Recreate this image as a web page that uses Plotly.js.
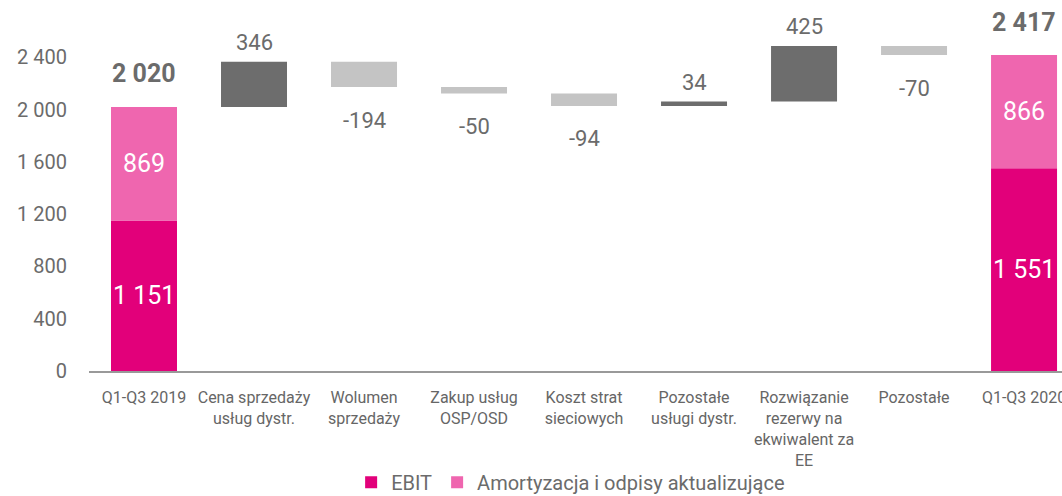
<!DOCTYPE html>
<html>
<head>
<meta charset="utf-8">
<script src="https://cdn.plot.ly/plotly-3.0.1.min.js"></script>
<style>html,body{margin:0;padding:0;background:#fff;overflow:hidden}#chart{width:1062px;height:496px}</style>
</head>
<body>
<div id="chart"></div>
<script>
const categories = [
  "Q1-Q3 2019",
  "Cena sprzedaży<br>usług dystr.",
  "Wolumen<br>sprzedaży",
  "Zakup usług<br>OSP/OSD",
  "Koszt strat<br>sieciowych",
  "Pozostałe<br>usługi dystr.",
  "Rozwiązanie<br>rezerwy na<br>ekwiwalent za<br>EE",
  "Pozostałe",
  "Q1-Q3 2020"
];
const ebit = [1151, null, null, null, null, null, null, null, 1551];
const amort = [869, null, null, null, null, null, null, null, 866];
const changes = [null, 346, -194, -50, -94, 34, 425, -70, null];
const yTicks = [0, 400, 800, 1200, 1600, 2000, 2400];

const C_EBIT = '#E2007A', C_AM = '#EF66AF', C_UP = '#6D6D6D', C_DOWN = '#C4C4C4', C_TXT = '#6B6B6B';
const FONT = 'Roboto, "Open Sans", sans-serif';
const fmt = v => (v < 0 ? '-' : '') + String(Math.abs(v)).replace(/\B(?=(\d{3})+(?!\d))/g, ' ');

// waterfall bases from cumulative sums
const bases = [];
let run = ebit[0] + amort[0];
changes.forEach((c, i) => {
  if (c === null) { bases.push(null); } else { bases.push(run); run += c; }
});

const traces = [
  {type:'bar', name:'EBIT', x:categories, y:ebit, base:0, width:0.6,
   marker:{color:C_EBIT}, hoverinfo:'skip'},
  {type:'bar', name:'Amortyzacja i odpisy aktualizujące', x:categories, y:amort,
   base:ebit.map(v => v === null ? null : v), width:0.6,
   marker:{color:C_AM}, hoverinfo:'skip'},
  {type:'bar', name:'zmiana', x:categories, y:changes, base:bases, width:0.6,
   marker:{color:changes.map(c => c === null ? C_UP : (c >= 0 ? C_UP : C_DOWN))},
   showlegend:false, hoverinfo:'skip'}
];

const ann = [];
categories.forEach((cat, i) => {
  if (ebit[i] !== null) {
    ann.push({x:cat, y:ebit[i]/2, text:fmt(ebit[i]), showarrow:false, yanchor:'middle',
      font:{family:FONT, size:25, color:'#fff'}});
    ann.push({x:cat, y:ebit[i] + amort[i]/2, text:fmt(amort[i]), showarrow:false, yanchor:'middle',
      font:{family:FONT, size:25, color:'#fff'}});
    ann.push({x:cat, y:ebit[i] + amort[i], text:'<b>' + fmt(ebit[i] + amort[i]) + '</b>', showarrow:false,
      yanchor:'middle', yshift:33, font:{family:FONT, size:25, color:C_TXT}});
  }
  if (changes[i] !== null) {
    const end = bases[i] + changes[i];
    const pos = changes[i] >= 0;
    ann.push({x:cat, y:end, text:fmt(changes[i]), showarrow:false, yanchor:'middle',
      yshift: pos ? 19 : -33, font:{family:FONT, size:22, color:C_TXT}});
  }
});

const layout = {
  width:1062, height:496,
  margin:{l:89, r:0, t:11, b:125, autoexpand:false},
  paper_bgcolor:'#fff', plot_bgcolor:'#fff',
  barmode:'overlay',
  showlegend:true,
  font:{family:FONT, color:C_TXT},
  xaxis:{type:'category', range:[-0.5, 8.345], showgrid:false, zeroline:false,
    showline:true, linecolor:'#999', linewidth:2, ticks:'outside', ticklen:11, tickcolor:'rgba(0,0,0,0)',
    tickfont:{family:FONT, size:16, color:'#666'}, fixedrange:true},
  yaxis:{range:[0, 2754], tickvals:yTicks, ticktext:yTicks.map(fmt), showgrid:false, zeroline:false,
    showline:false, ticks:'outside', ticklen:17, tickcolor:'rgba(0,0,0,0)',
    tickfont:{family:FONT, size:20, color:C_TXT}, fixedrange:true},
  legend:{orientation:'h', x:0.495, xanchor:'center', yref:'paper', y:-0.309, yanchor:'middle',
    bgcolor:'rgba(0,0,0,0)', font:{family:FONT, size:20, color:C_TXT}, traceorder:'normal'},
  annotations:ann
};

Plotly.newPlot('chart', traces, layout, {displayModeBar:false, staticPlot:true});
</script>
</body>
</html>
